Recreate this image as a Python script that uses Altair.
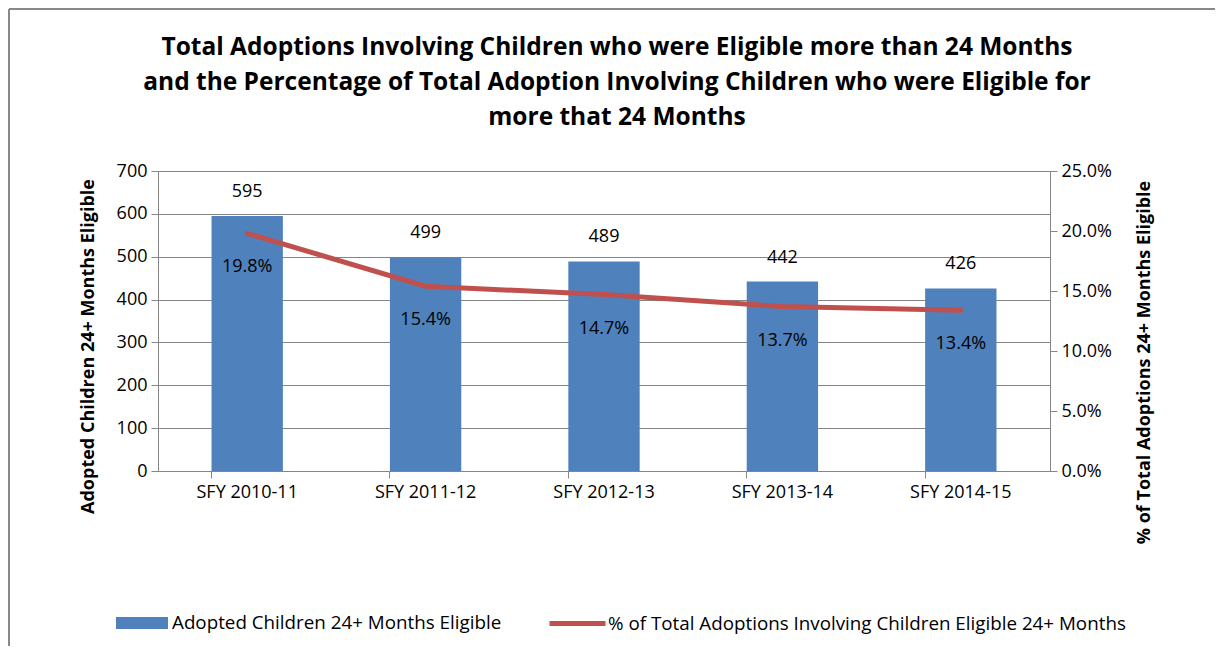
import altair as alt
import pandas as pd

years = ["SFY 2010-11", "SFY 2011-12", "SFY 2012-13", "SFY 2013-14", "SFY 2014-15"]
counts = [595, 499, 489, 442, 426]
pcts = [0.198, 0.154, 0.147, 0.137, 0.134]

bar_name = "Adopted Children 24+ Months Eligible"
line_name = "% of Total Adoptions Involving Children Eligible 24+ Months"

df = pd.DataFrame({"year": years, "count": counts, "pct": pcts,
                   "bar_series": bar_name, "line_series": line_name})

FONT = "Open Sans"
FS = 18
BLUE = "#4F81BD"
RED = "#C0504D"
GRID = "#868686"

x = alt.X("year:N", sort=years, title=None,
          scale=alt.Scale(paddingInner=0.6, paddingOuter=0.3),
          axis=alt.Axis(labelAngle=0, labelFontSize=FS, labelFont=FONT, labelColor="#000",
                        domainColor=GRID, tickColor=GRID, tickSize=7, bandPosition=0,
                        labelPadding=5))

y_left = alt.Y("count:Q", scale=alt.Scale(domain=[0, 700], nice=False),
               title="Adopted Children 24+ Months Eligible",
               axis=alt.Axis(values=list(range(0, 701, 100)), grid=True, gridColor=GRID,
                             domainColor=GRID, tickColor=GRID, tickSize=7,
                             labelFontSize=FS, labelFont=FONT, labelColor="#000", labelPadding=4,
                             titleFontSize=18, titleFont=FONT, titleFontWeight="bold",
                             titleColor="#000", titleX=-61, titleY=175, titleAngle=270))

y_right = alt.Y("pct:Q", scale=alt.Scale(domain=[0, 0.25], nice=False),
                title="% of Total Adoptions 24+ Months Eligible",
                axis=alt.Axis(orient="right", format=".1%", values=[0, 0.05, 0.1, 0.15, 0.2, 0.25],
                              grid=False, domainColor=GRID, tickColor=GRID, tickSize=7,
                              labelFontSize=FS, labelFont=FONT, labelColor="#000", labelPadding=4,
                              titleFontSize=18, titleFont=FONT, titleFontWeight="bold",
                              titleColor="#000", titleX=103, titleY=191, titleAngle=270))

base = alt.Chart(df)

bars = base.mark_bar(color=BLUE).encode(
    x=x, y=y_left,
    color=alt.Color("bar_series:N", scale=alt.Scale(domain=[bar_name], range=[BLUE]),
                    legend=alt.Legend(title=None, orient="none", legendX=-42, legendY=426,
                                      symbolType="M-1,-0.23L1,-0.23L1,0.23L-1,0.23Z",
                                      symbolSize=2704, symbolStrokeWidth=0,
                                      labelFontSize=18.8, labelFont=FONT, labelColor="#000",
                                      labelOffset=4, symbolOpacity=1, labelLimit=600)))

bar_labels = base.mark_text(dy=-24, fontSize=FS, font=FONT, color="#000").encode(
    x=x, y=alt.Y("count:Q"), text=alt.Text("count:Q"))

left = alt.layer(bars, bar_labels)

line = base.mark_line(strokeWidth=5, strokeCap="round").encode(
    x=x, y=y_right,
    stroke=alt.Stroke("line_series:N", scale=alt.Scale(domain=[line_name], range=[RED]),
                      legend=alt.Legend(title=None, orient="none", legendX=389, legendY=422,
                                        symbolType="stroke", symbolSize=3136,
                                        symbolStrokeWidth=5,
                                        labelFontSize=18.8, labelFont=FONT, labelColor="#000",
                                        labelOffset=0, labelLimit=800)))

pct_labels = base.mark_text(dy=34, fontSize=FS, font=FONT, color="#000").encode(
    x=x, y=alt.Y("pct:Q"), text=alt.Text("pct:Q", format=".1%"))

right = alt.layer(line, pct_labels)

frame_src = alt.Chart(pd.DataFrame({"k": [0]}))
frame_left = frame_src.mark_rule(color="#888888", strokeWidth=2).encode(
    x=alt.value(-149), y=alt.value(-162), y2=alt.value(500))
frame_top = frame_src.mark_rule(color="#888888", strokeWidth=2).encode(
    x=alt.value(-149), x2=alt.value(1080), y=alt.value(-162))

chart = alt.layer(left, right, frame_left, frame_top).resolve_scale(
    y="independent", color="independent", stroke="independent"
).properties(
    width=892, height=300,
    autosize=alt.AutoSizeParams(type="none"),
    padding={"left": 150, "top": 163, "right": 165, "bottom": 175},
    title=alt.TitleParams(
        text=["Total Adoptions Involving Children who were Eligible more than 24 Months",
              "and the Percentage of Total Adoption Involving Children who were Eligible for",
              "more that 24 Months"],
        fontSize=24.5, font=FONT, fontWeight="bold", color="#000", anchor="middle",
        lineHeight=35, dx=13, offset=-122),
).configure_view(strokeWidth=0).configure(background="white")

chart.save("out.html", embed_options={"renderer": "svg", "actions": False})
